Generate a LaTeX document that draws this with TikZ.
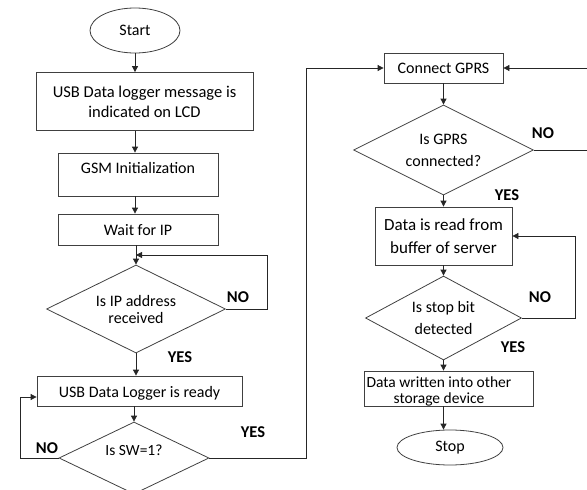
\documentclass[tikz,border=0pt]{standalone}
\usepackage{fontspec}
\setmainfont{Carlito}
\usetikzlibrary{shapes.geometric,arrows.meta}
\newcommand{\flowfont}[2]{\fontsize{#1}{#2}\selectfont}
\begin{document}
\begin{tikzpicture}[x=1pt,y=-1pt,
  flow/.style={draw=black!75, line width=0.8pt},
  box/.style={flow, rectangle, inner sep=0pt, align=center, font=\flowfont{16}{19}},
  term/.style={flow, ellipse, inner sep=0pt, font=\flowfont{16}{19}},
  decide/.style={flow, diamond, aspect=2, inner sep=0pt, align=center},
  arr/.style={draw=black!85, line width=0.8pt, -{Triangle[length=6pt,width=6pt]}},
  ans/.style={font=\flowfont{16.5}{19}\bfseries, inner sep=0pt}]
\useasboundingbox (0,0) rectangle (587,490);
\clip (0,0) rectangle (587,490);

% ---- left column ----
\node[term, minimum width=90pt, minimum height=45pt] (start) at (135,30.5) {Start};
\node[box, minimum width=217pt, minimum height=58pt, font=\flowfont{16.5}{20}] (b1) at (144.5,101.5)
  {USB Data logger message is\\indicated on LCD};
\node[box, anchor=base, minimum width=160pt, text height=20pt, text depth=23pt] (gsm) at (138,173) {GSM Initialization};
\node[box, anchor=base, minimum width=160pt, text height=21pt, text depth=10pt] (wait) at (138,235) {Wait for IP};
\node[decide, minimum width=179pt, minimum height=88pt, font=\flowfont{16}{17}] (ip) at (136,309)
  {Is IP address\\received};
\node[box, anchor=base, minimum width=205pt, text height=21pt, text depth=9pt] (ready) at (139.5,397) {USB Data Logger is ready};
\node[decide, minimum width=150pt, minimum height=72pt, font=\flowfont{15.5}{19}, text height=10pt, text depth=16pt] (sw) at (134,458) {Is SW=1?};

% ---- right column ----
\node[box, anchor=base, minimum width=119pt, text height=20pt, text depth=10pt] (gprs) at (443.5,73) {Connect GPRS};
\node[decide, minimum width=180pt, minimum height=90pt, font=\flowfont{16}{22}] (gq) at (443.5,150)
  {Is GPRS\\connected?};
\node[box, minimum width=137pt, minimum height=58pt, font=\flowfont{17}{23}] (read) at (443.5,236)
  {Data is read from\\buffer of server};
\node[decide, minimum width=156pt, minimum height=84pt, font=\flowfont{16}{21}] (stopq) at (443.5,318)
  {Is stop bit\\detected};
\node[flow, rectangle, minimum width=169pt, minimum height=35pt, inner sep=0pt] (write) at (448.5,388.5) {};
\node[align=center, inner sep=0pt, font=\flowfont{15.5}{16}] (writetxt) at (439,391)
  {Data written into other\\storage device};
\node[term, minimum width=106pt, minimum height=35pt] (stop) at (450,447.5) {Stop};

% ---- connectors ----
\coordinate (ipjoin) at (ip.north |- 0,255);
\draw[arr] (start.south) -- (start.south |- b1.north);
\draw[arr] (b1.south -| start.south) -- (start.south |- gsm.north);
\draw[arr] (gsm.south -| start.south) -- (start.south |- wait.north);
\draw[arr] (wait.south -| ip.north) -- (ip.north);
\draw[arr] (ip.east) -- ++(41,0) |- (ipjoin);
\draw[arr] (ip.south) -- (ip.south |- ready.north);
\draw[arr] (ready.south -| sw.north) -- (sw.north);
\draw[arr] (sw.west) -- ++(-38,0) |- (ready.base west);
\draw[arr] (sw.east) -- ++(97,0) |- (gprs.west);

\draw[arr] (gprs.south) -- (gq.north);
\draw[arr] (gq.east) -- ++(62,0) |- (gprs.east);
\draw[arr] (gq.south) -- (read.north);
\draw[arr] (read.south) -- (stopq.north);
\draw[arr] (stopq.east) -- ++(53,0) |- (read.east);
\draw[arr] (stopq.south) -- (stopq.south |- write.north);
\draw[arr] (write.south -| stopq.south) -- (stopq.south |- stop.north);

% ---- branch labels ----
\node[ans] (ipno) at (238,297) {NO};
\node[ans] (ipyes) at (180,357) {YES};
\node[ans] (swno) at (47,448) {NO};
\node[ans] (swyes) at (253,432) {YES};
\node[ans] (gqno) at (543,133) {NO};
\node[ans] (gqyes) at (507,195) {YES};
\node[ans] (stopno) at (540,297) {NO};
\node[ans] (stopyes) at (513,347) {YES};
\end{tikzpicture}
\end{document}
